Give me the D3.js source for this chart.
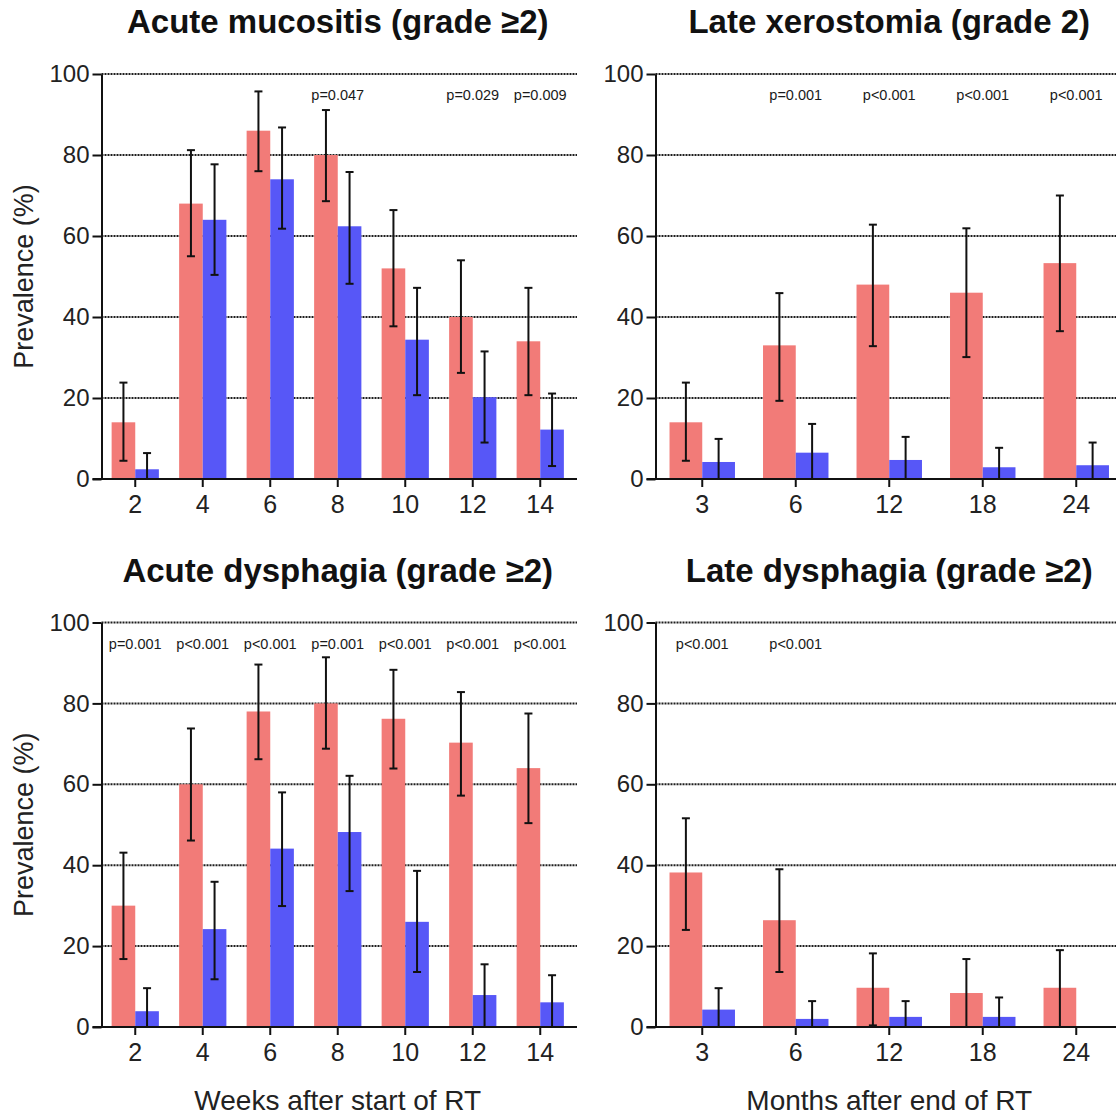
<!DOCTYPE html>
<html>
<head>
<meta charset="utf-8">
<script src="https://cdn.jsdelivr.net/npm/d3@7"></script>
<style>
  html, body { margin: 0; padding: 0; background: #fff; }
  svg { display: block; font-family: "Liberation Sans", Arial, Helvetica, sans-serif; }
</style>
</head>
<body>
<svg id="chart" width="1116" height="1116"></svg>
<script>
// ---- Data: prevalence (%) with 95% CI, two treatment groups per time point ----
const weeks = ["2", "4", "6", "8", "10", "12", "14"];
const months = ["3", "6", "12", "18", "24"];

// Acute mucositis (grade >=2)
const mucRed   = [14, 68, 86, 80, 52, 40, 34];
const mucRedLo = [4.5, 55, 76, 68.6, 37.7, 26.2, 20.7];
const mucRedHi = [23.8, 81.2, 95.7, 91.1, 66.4, 54, 47.2];
const mucBlue   = [2.4, 64, 74, 62.4, 34.4, 20.2, 12.2];
const mucBlueLo = [0, 50.4, 61.8, 48.2, 20.7, 9, 3.2];
const mucBlueHi = [6.4, 77.7, 86.8, 75.8, 47.2, 31.5, 21.1];
const mucP = [null, null, null, "p=0.047", null, "p=0.029", "p=0.009"];

// Late xerostomia (grade 2)
const xerRed   = [14, 33, 48, 46, 53.3];
const xerRedLo = [4.5, 19.3, 32.8, 30.1, 36.5];
const xerRedHi = [23.8, 45.9, 62.8, 61.9, 70];
const xerBlue   = [4.2, 6.5, 4.7, 2.9, 3.4];
const xerBlueLo = [0, 0, 0, 0, 0];
const xerBlueHi = [9.9, 13.6, 10.4, 7.7, 9];
const xerP = [null, "p=0.001", "p<0.001", "p<0.001", "p<0.001"];

// Acute dysphagia (grade >=2)
const dysRed   = [30, 60, 78, 80, 76.2, 70.3, 64];
const dysRedLo = [16.8, 46.1, 66.2, 68.8, 63.9, 57.2, 50.4];
const dysRedHi = [43.1, 73.8, 89.6, 91.4, 88.3, 82.8, 77.5];
const dysBlue   = [3.9, 24.2, 44.1, 48.2, 26, 7.9, 6.1];
const dysBlueLo = [0, 11.8, 29.9, 33.6, 13.6, 0, 0];
const dysBlueHi = [9.6, 35.9, 58, 62.1, 38.6, 15.5, 12.8];
const dysP = ["p=0.001", "p<0.001", "p<0.001", "p=0.001", "p<0.001", "p<0.001", "p<0.001"];

// Late dysphagia (grade >=2)
const ldyRed   = [38.2, 26.4, 9.7, 8.4, 9.7];
const ldyRedLo = [24, 13.6, 0.4, 0, 0];
const ldyRedHi = [51.6, 39, 18.2, 16.8, 19];
const ldyBlue   = [4.3, 2, 2.5, 2.5, null];
const ldyBlueLo = [0, 0, 0, 0, null];
const ldyBlueHi = [9.6, 6.4, 6.4, 7.3, null];
const ldyP = ["p<0.001", "p<0.001", null, null, null];

const yTicks = [0, 20, 40, 60, 80, 100];
const redColor = "#f27b78";
const blueColor = "#5757f7";

function rows(cats, r, rLo, rHi, b, bLo, bHi, p) {
  return cats.map((c, i) => ({
    cat: c, p: p[i],
    series: [
      { key: "red", v: r[i], lo: rLo[i], hi: rHi[i] },
      { key: "blue", v: b[i], lo: bLo[i], hi: bHi[i] }
    ]
  }));
}

const panels = [
  { title: "Acute mucositis (grade \u22652)", data: rows(weeks, mucRed, mucRedLo, mucRedHi, mucBlue, mucBlueLo, mucBlueHi, mucP),
    x0: 101.5, x1: 574, gridEnd: 577, yTop: 74, yBot: 479, yLabel: true, xTitle: null },
  { title: "Late xerostomia (grade 2)", data: rows(months, xerRed, xerRedLo, xerRedHi, xerBlue, xerBlueLo, xerBlueHi, xerP),
    x0: 655.5, x1: 1123, gridEnd: 1130, yTop: 74, yBot: 479, yLabel: false, xTitle: null },
  { title: "Acute dysphagia (grade \u22652)", data: rows(weeks, dysRed, dysRedLo, dysRedHi, dysBlue, dysBlueLo, dysBlueHi, dysP),
    x0: 101.5, x1: 574, gridEnd: 577, yTop: 622.5, yBot: 1027, yLabel: true, xTitle: "Weeks after start of RT" },
  { title: "Late dysphagia (grade \u22652)", data: rows(months, ldyRed, ldyRedLo, ldyRedHi, ldyBlue, ldyBlueLo, ldyBlueHi, ldyP),
    x0: 655.5, x1: 1123, gridEnd: 1130, yTop: 622.5, yBot: 1027, yLabel: false, xTitle: "Months after end of RT" }
];

const svg = d3.select("#chart");

panels.forEach(P => {
  const g = svg.append("g");
  const x = d3.scaleBand().domain(P.data.map(d => d.cat)).range([P.x0, P.x1]).paddingInner(0.3).paddingOuter(0.15);
  const xs = d3.scaleBand().domain(["red", "blue"]).range([0, x.bandwidth()]);
  const y = d3.scaleLinear().domain([0, 100]).range([P.yBot, P.yTop]);

  // dotted horizontal gridlines
  g.append("g").selectAll("line").data(yTicks.filter(t => t > 0)).join("line")
    .attr("x1", P.x0).attr("x2", P.gridEnd)
    .attr("y1", d => y(d)).attr("y2", d => y(d))
    .attr("stroke", "#1e1e1e").attr("stroke-width", 2).attr("stroke-dasharray", "2,1");

  // bars
  const grp = g.append("g").selectAll("g").data(P.data).join("g")
    .attr("transform", d => `translate(${x(d.cat)},0)`);
  grp.selectAll("rect").data(d => d.series.filter(s => s.v != null)).join("rect")
    .attr("x", s => xs(s.key)).attr("width", xs.bandwidth())
    .attr("y", s => y(s.v)).attr("height", s => y(0) - y(s.v))
    .attr("fill", s => s.key === "red" ? redColor : blueColor);

  // error bars with caps
  const eb = grp.selectAll("g.err").data(d => d.series.filter(s => s.hi != null)).join("g").attr("class", "err")
    .attr("transform", s => `translate(${xs(s.key) + xs.bandwidth() / 2},0)`);
  eb.append("line").attr("x1", 0).attr("x2", 0).attr("y1", s => y(s.lo)).attr("y2", s => y(s.hi))
    .attr("stroke", "#111").attr("stroke-width", 2);
  eb.append("line").attr("x1", -4).attr("x2", 4).attr("y1", s => y(s.hi)).attr("y2", s => y(s.hi))
    .attr("stroke", "#111").attr("stroke-width", 2);
  eb.append("line").attr("x1", -4).attr("x2", 4).attr("y1", s => y(s.lo)).attr("y2", s => y(s.lo))
    .attr("stroke", "#111").attr("stroke-width", 2);

  // p-values
  g.append("g").selectAll("text").data(P.data.filter(d => d.p)).join("text")
    .attr("x", d => x(d.cat) + x.bandwidth() / 2).attr("y", y(100) + 26)
    .attr("text-anchor", "middle").attr("font-size", 14.5).attr("fill", "#1a1a1a")
    .text(d => d.p);

  // y axis
  const ya = g.append("g").attr("transform", `translate(${P.x0},0)`)
    .call(d3.axisLeft(y).tickValues(yTicks).tickSize(9).tickSizeOuter(0).tickPadding(3));
  ya.select(".domain").attr("stroke", "#111").attr("stroke-width", 2);
  ya.selectAll(".tick line").attr("stroke", "#111").attr("stroke-width", 2);
  ya.selectAll(".tick text").attr("font-size", 24).attr("fill", "#222").attr("font-family", "Liberation Sans, Arial, sans-serif");

  // x axis
  const xa = g.append("g").attr("transform", `translate(0,${P.yBot})`)
    .call(d3.axisBottom(x).tickSize(8).tickSizeOuter(0).tickPadding(8));
  xa.select(".domain").remove();
  xa.selectAll(".tick line").attr("stroke", "#111").attr("stroke-width", 2);
  xa.selectAll(".tick text").attr("font-size", 25).attr("fill", "#222").attr("font-family", "Liberation Sans, Arial, sans-serif");
  g.append("line").attr("x1", P.x0 - 9).attr("x2", P.gridEnd).attr("y1", P.yBot).attr("y2", P.yBot)
    .attr("stroke", "#111").attr("stroke-width", 2);

  // titles
  g.append("text").attr("x", (P.x0 + P.x1) / 2).attr("y", P.yTop - 41)
    .attr("text-anchor", "middle").attr("font-size", 33).attr("font-weight", "bold").attr("fill", "#111")
    .text(P.title);

  if (P.yLabel) {
    g.append("text").attr("transform", `translate(33,${(P.yTop + P.yBot) / 2}) rotate(-90)`)
      .attr("text-anchor", "middle").attr("font-size", 27).attr("fill", "#222")
      .text("Prevalence (%)");
  }
  if (P.xTitle) {
    g.append("text").attr("x", (P.x0 + P.x1) / 2).attr("y", 1110)
      .attr("text-anchor", "middle").attr("font-size", 28).attr("fill", "#222")
      .text(P.xTitle);
  }
});
</script>
</body>
</html>
